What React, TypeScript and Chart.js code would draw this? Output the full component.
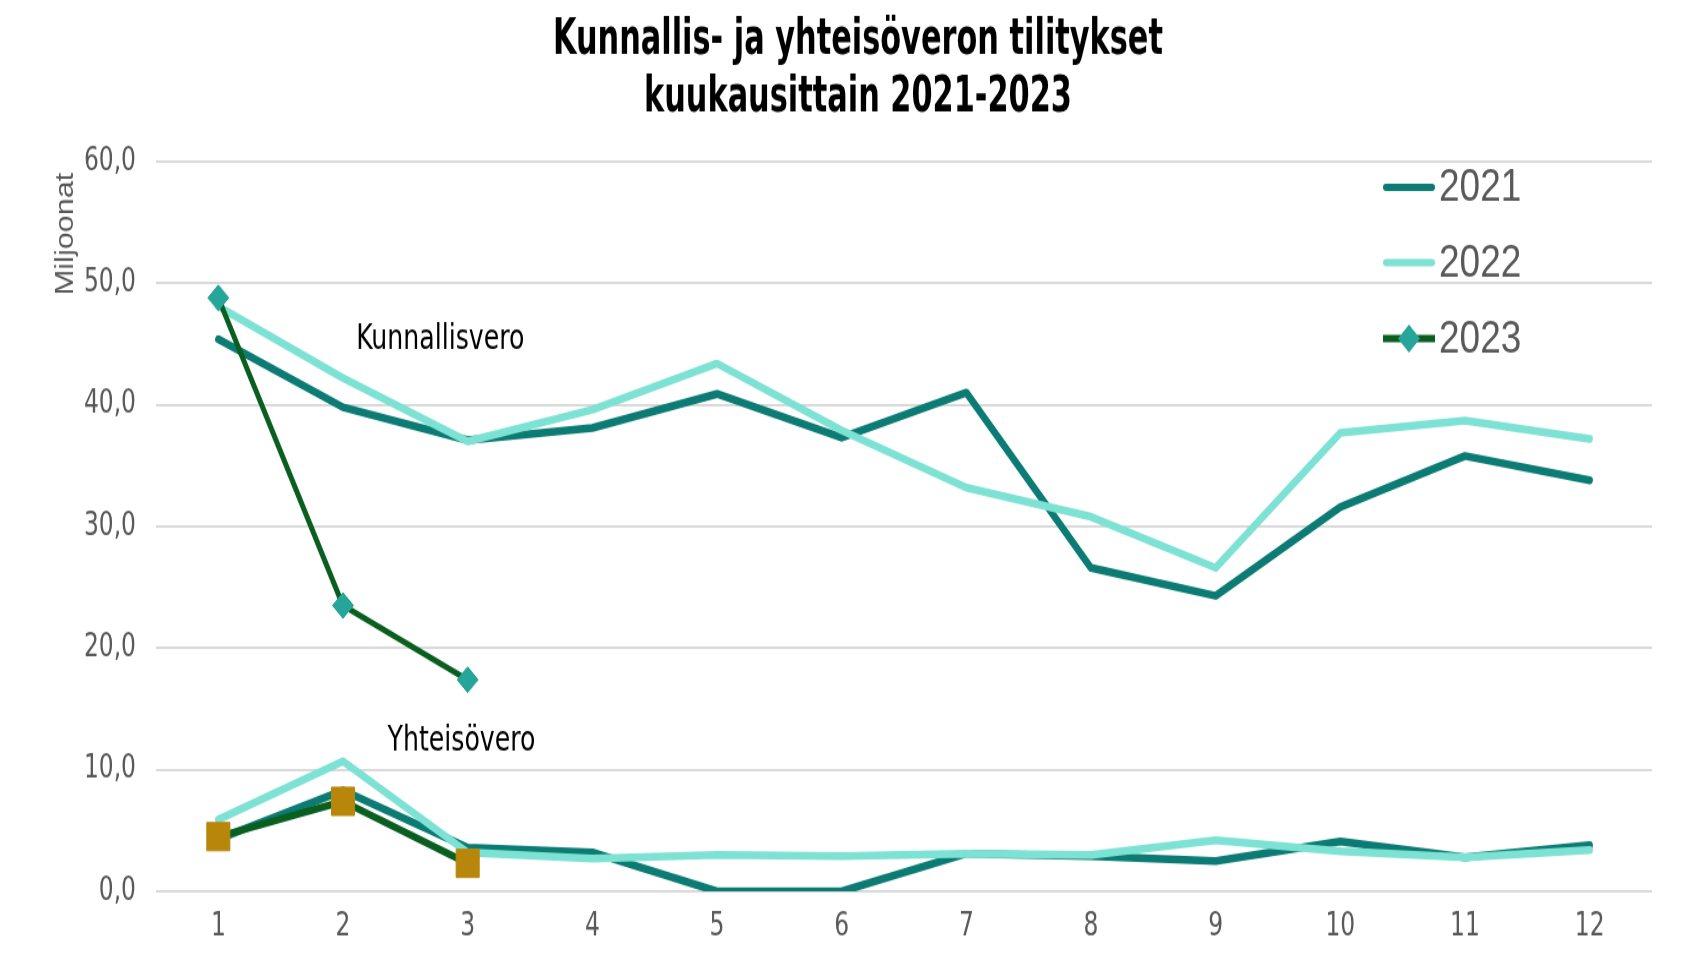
import React, { useEffect, useRef } from 'react';
import { Chart, registerables } from 'chart.js';

Chart.register(...registerables);

// ---- data ----
const months = ['1', '2', '3', '4', '5', '6', '7', '8', '9', '10', '11', '12'];
const kunnallis2021 = [45.4, 39.8, 37.1, 38.1, 40.9, 37.3, 41.0, 26.6, 24.3, 31.6, 35.8, 33.8];
const kunnallis2022 = [48.1, 42.2, 37.0, 39.6, 43.4, 37.9, 33.2, 30.8, 26.6, 37.7, 38.7, 37.2];
const kunnallis2023 = [48.8, 23.5, 17.4];
const yhteis2021 = [4.3, 8.3, 3.6, 3.2, 0.0, 0.0, 3.1, 2.9, 2.5, 4.1, 2.8, 3.8];
const yhteis2022 = [5.9, 10.7, 3.2, 2.7, 3.0, 2.9, 3.1, 3.0, 4.2, 3.3, 2.8, 3.4];
const yhteis2023 = [4.5, 7.4, 2.3];
const yTickValues = [0, 10, 20, 30, 40, 50, 60];
const legendYears = ['2021', '2022', '2023'];
const titleLines = ['Kunnallis- ja yhteisöveron tilitykset', 'kuukausittain 2021-2023'];
const yAxisTitle = 'Miljoonat';
const seriesLabels = ['Kunnallisvero', 'Yhteisövero'];
const seriesLabelAt = [1.78, 1.95]; // category index position
const seriesLabelValue = [45.3, 12.3];

// ---- style ----
const NARROW = "'Liberation Sans Narrow', 'Arial Narrow', 'DejaVu Sans Condensed', 'Liberation Sans', sans-serif";
const SANS = "'Liberation Sans', Arial, sans-serif";
const C2021 = '#0B7B73';
const C2022 = '#7DE2D3';
const C2023 = '#0A5E1F';
const DIAMOND = '#26A69A';
const SQUARE = '#B8860B';
const GRAY = '#595959';

const W = 1685;
const H = 780; // drawn height, stretched to 955 by CSS
const TITLE_WIDTH = 610;

const overlayPlugin = {
  id: 'overlay',
  afterDraw(chart: any) {
    const ctx: CanvasRenderingContext2D = chart.ctx;
    const xs = chart.scales.x;
    const ys = chart.scales.y;
    ctx.save();

    // title (condensed horizontally to match the narrow face)
    ctx.fillStyle = '#000';
    ctx.textAlign = 'center';
    ctx.textBaseline = 'middle';
    ctx.font = `bold 41px ${NARROW}`;
    const sx = Math.min(1, TITLE_WIDTH / ctx.measureText(titleLines[0]).width);
    titleLines.forEach((t, i) => {
      ctx.save();
      ctx.translate(858, 33.5 + i * 46.6);
      ctx.scale(sx, 1);
      ctx.fillText(t, 0, 0);
      ctx.restore();
    });

    // series labels
    ctx.font = `28px ${NARROW}`;
    seriesLabels.forEach((t, i) => {
      ctx.fillText(t, xs.getPixelForValue(seriesLabelAt[i]), ys.getPixelForValue(seriesLabelValue[i]));
    });

    // y axis title
    ctx.save();
    ctx.translate(66, 191);
    ctx.rotate(-Math.PI / 2);
    ctx.fillStyle = GRAY;
    ctx.font = `25px ${SANS}`;
    ctx.fillText(yAxisTitle, 0, 0);
    ctx.restore();

    // legend
    const colors = [C2021, C2022, C2023];
    const ly = [153, 214.5, 276.5];
    ctx.textAlign = 'left';
    ctx.font = `37px ${SANS}`;
    legendYears.forEach((yr, i) => {
      ctx.strokeStyle = colors[i];
      ctx.lineWidth = 6;
      ctx.lineCap = i < 2 ? 'round' : 'butt';
      ctx.beginPath();
      ctx.moveTo(i < 2 ? 1386 : 1383, ly[i]);
      ctx.lineTo(i < 2 ? 1432 : 1435, ly[i]);
      ctx.stroke();
      if (i === 2) {
        const cx = 1409;
        ctx.fillStyle = DIAMOND;
        ctx.beginPath();
        ctx.moveTo(cx, ly[i] - 11.5);
        ctx.lineTo(cx + 11, ly[i]);
        ctx.lineTo(cx, ly[i] + 11.5);
        ctx.lineTo(cx - 11, ly[i]);
        ctx.closePath();
        ctx.fill();
      }
      ctx.fillStyle = GRAY;
      ctx.fillText(yr, 1439, ly[i] + 1);
    });

    ctx.restore();
  },
};

export default function App() {
  const ref = useRef<HTMLCanvasElement | null>(null);

  useEffect(() => {
    if (!ref.current) return;
    const line = (data: number[], color: string, width: number, order: number, extra: any = {}) => ({
      data,
      borderColor: color,
      backgroundColor: color,
      borderWidth: width,
      pointRadius: 0,
      tension: 0,
      fill: false,
      borderCapStyle: 'round',
      borderJoinStyle: 'round',
      order,
      ...extra,
    });
    const chart = new Chart(ref.current, {
      type: 'line',
      data: {
        labels: months,
        datasets: [
          line(kunnallis2021, C2021, 6.5, 3),
          line(kunnallis2022, C2022, 6.5, 2),
          line(kunnallis2023, C2023, 5, 1, {
            pointRadius: 10.5,
            pointStyle: 'rectRot',
            pointBackgroundColor: DIAMOND,
            pointBorderColor: DIAMOND,
            pointBorderWidth: 1,
          }),
          line(yhteis2021, C2021, 6.5, 3),
          line(yhteis2022, C2022, 6.5, 2),
          line(yhteis2023, C2023, 6, 1, {
            pointRadius: 16.3,
            pointStyle: 'rect',
            pointBackgroundColor: SQUARE,
            pointBorderColor: SQUARE,
            pointBorderWidth: 1,
          }),
        ] as any,
      },
      options: {
        animation: false,
        responsive: false,
        devicePixelRatio: 1,
        events: [],
        layout: { padding: { top: 132, right: 33, bottom: 0, left: 0 } },
        plugins: {
          legend: { display: false },
          tooltip: { enabled: false },
          title: { display: false },
        },
        scales: {
          x: {
            type: 'category',
            offset: true,
            grid: { display: false, drawTicks: false },
            border: { display: false },
            ticks: {
              color: GRAY,
              font: { family: NARROW, size: 26 },
              padding: 14,
              maxRotation: 0,
              autoSkip: false,
            },
            afterFit: (s: any) => {
              s.height = 52;
            },
          },
          y: {
            min: 0,
            max: 60,
            grid: { color: '#D9D9D9', lineWidth: 2, drawTicks: false },
            border: { display: false },
            ticks: {
              color: GRAY,
              font: { family: NARROW, size: 26 },
              padding: 20,
              callback: (v: any) => Number(v).toFixed(1).replace('.', ','),
            },
            afterBuildTicks: (s: any) => {
              s.ticks = yTickValues.map((v) => ({ value: v }));
            },
            afterFit: (s: any) => {
              s.width = 156;
            },
          },
        },
      } as any,
      plugins: [overlayPlugin],
    });
    return () => chart.destroy();
  }, []);

  return (
    <div style={{ position: 'fixed', left: 0, top: 0, width: W, height: 955, background: '#fff' }}>
      <canvas
        ref={ref}
        width={W}
        height={H}
        style={{ width: `${W}px`, height: '955px', display: 'block' }}
      />
    </div>
  );
}
